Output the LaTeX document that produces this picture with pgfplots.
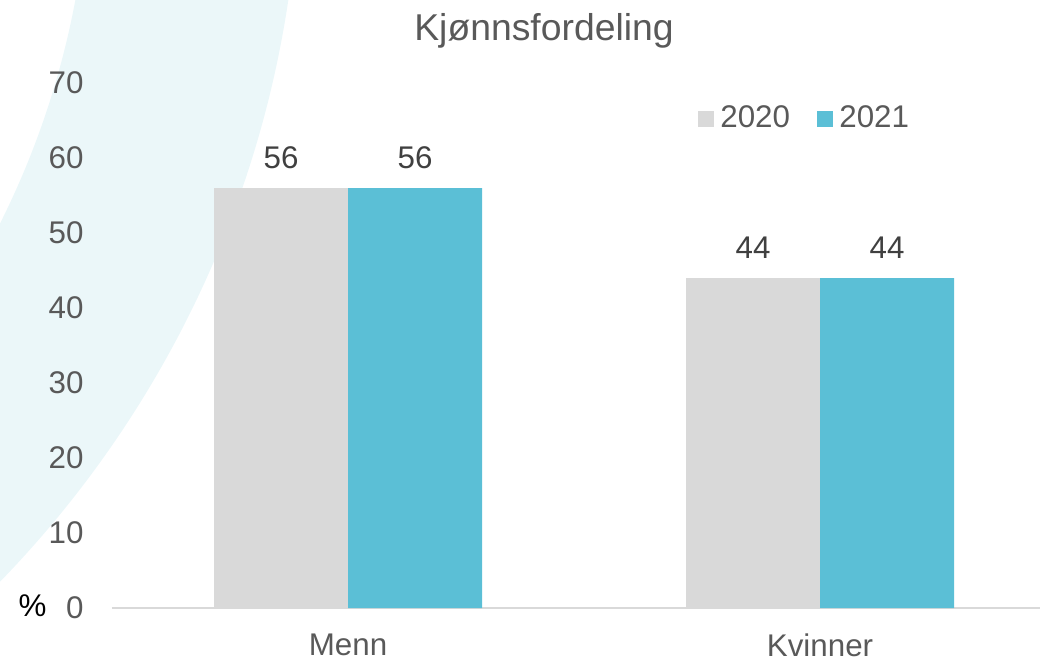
\documentclass[border=0pt]{standalone}
\usepackage{fontspec}
\setmainfont{Liberation Sans}
\usepackage{pgfplots}
\pgfplotsset{compat=1.18}

\definecolor{bargray}{HTML}{D9D9D9}
\definecolor{barteal}{HTML}{5BBFD6}
\definecolor{txtgray}{HTML}{595959}
\definecolor{lblgray}{HTML}{404040}
\definecolor{ringcol}{HTML}{EBF7F9}

\begin{document}
\begin{tikzpicture}[font=\fontsize{9.4}{11}\selectfont]
\useasboundingbox (0,0) rectangle (312pt,198pt);
% light background ring
\begin{scope}
\clip (0,0) rectangle (312pt,198pt);
\fill[ringcol, even odd rule] (-228.6pt,245.4pt) circle (255.6pt) (-228.6pt,245.4pt) circle (318.6pt);
\end{scope}

\begin{axis}[
  scale only axis,
  width=278.4pt, height=157.5pt,
  at={(33.6pt,15.6pt)}, anchor=south west,
  ybar=0pt, bar width=40.2pt,
  xmin=-0.5, xmax=1.4661,
  ymin=0, ymax=70,
  ytick={0,10,...,70},
  xtick={0,1},
  xticklabels={Menn,Kvinner},
  axis lines=left,
  y axis line style={draw=none},
  x axis line style={-, draw=bargray, line width=0.7pt},
  major tick length=0pt,
  tick label style={color=txtgray},
  yticklabel style={xshift=-5pt},
  xticklabel style={yshift=-4.3pt},
  /pgf/number format/assume math mode=true,
  nodes near coords,
  every node near coord/.append style={color=lblgray, yshift=2.3pt},
  legend columns=2,
  legend style={at={(0.6304,0.9314)}, anchor=west, draw=none, fill=none,
    inner sep=0pt, text=txtgray,
    /tikz/every even column/.append style={column sep=6pt}},
  legend image code/.code={\fill[#1, draw=none] (0pt,-2.4pt) rectangle (4.8pt,2.4pt);},
]
\addplot[fill=bargray, draw=none] coordinates {(0,56) (1,44)};
\addplot[fill=barteal, draw=none] coordinates {(0,56) (1,44)};
\legend{2020,2021}
\end{axis}

\node[anchor=base, text=txtgray, font=\fontsize{11.2}{13}\selectfont] at (163.2pt,185.85pt) {Kjønnsfordeling};
\node[text=black] at (9.75pt,16.2pt) {\%};
\end{tikzpicture}
\end{document}
